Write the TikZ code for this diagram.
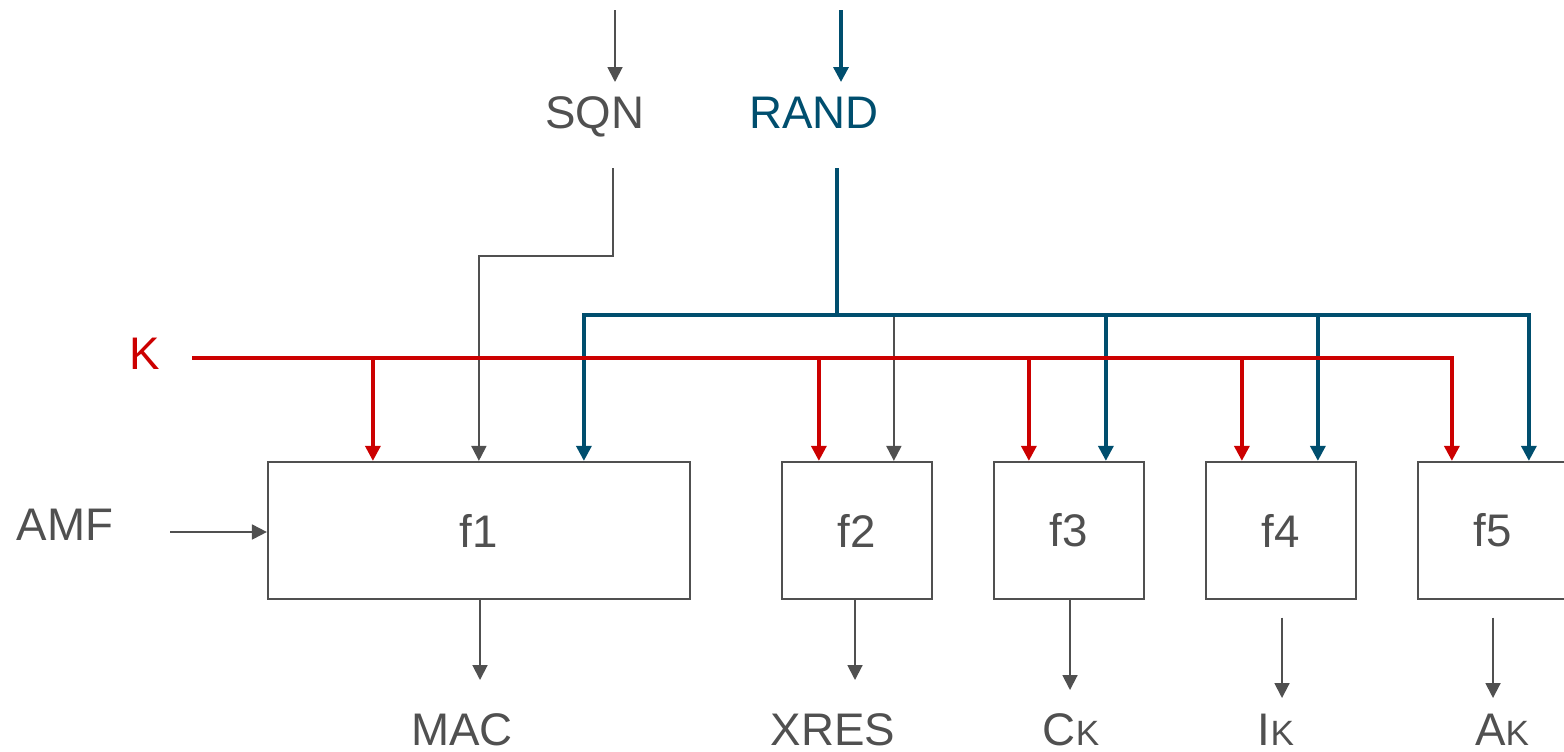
\documentclass[tikz,border=0pt]{standalone}
\usepackage{fontspec}
\setsansfont{Liberation Sans}
\usetikzlibrary{arrows.meta,positioning,calc}
\definecolor{txtgray}{RGB}{80,80,80}
\definecolor{kred}{RGB}{204,0,0}
\definecolor{randblue}{RGB}{0,78,110}
\newcommand{\subk}{{\fontsize{20}{24}\selectfont K}}

\begin{document}
\begin{tikzpicture}[
  x=0.02cm, y=-0.02cm,
  font=\sffamily\fontsize{26}{30}\selectfont,
  >={Triangle[width=8.5pt,length=8.5pt]},
  txt/.style={text=txtgray, inner sep=0pt, anchor=base},
  fbox/.style={draw=txtgray, line width=1.3pt, minimum height=2.74cm, minimum width=3cm, inner sep=0pt, text=txtgray},
  sig/.style={draw=txtgray, line width=1.1pt},
  kline/.style={draw=kred, line width=1.9pt},
  rline/.style={draw=randblue, line width=1.9pt}
]
\useasboundingbox (0,0) rectangle (1564,751);

% inputs
\node[txt] (sqn) at (595,128) {SQN};
\node[txt, text=randblue] (rand) at (814,128) {RAND};
\node[txt, text=kred] (k) at (145,369) {K};
\node[txt] (amf) at (65,540) {AMF};

% functions
\node[fbox, minimum width=8.44cm] (f1) at (479,530.5) {f1};
\node[fbox] (f2) at (857,530.5) {f2};
\node[fbox] (f3) at (1069,530.5) {f3};
\node[fbox] (f4) at (1281,530.5) {f4};
\node[fbox] (f5) at (1493,530.5) {f5};

% outputs
\node[txt] (mac) at (462,745) {MAC};
\node[txt] (xres) at (833,745) {XRES};
\node[txt] (ck) at (1071,745) {C\subk};
\node[txt] (ik) at (1276,745) {I\subk};
\node[txt] (ak) at (1502,745) {A\subk};

% tap points on the box tops
\foreach \b/\dk/\dr in {f1/106/317, f2/38/113, f3/36/113, f4/37/113, f5/35/112} {
  \coordinate (\b k) at ($(\b.north west)+(\dk,0)$);
  \coordinate (\b r) at ($(\b.north west)+(\dr,0)$);
}
\coordinate (f1s) at ($(f1.north west)+(212,0)$);

% top feeds
\coordinate (sqnsrc) at (615,10);
\coordinate (sqntip) at (615,82);
\coordinate (randsrc) at (841,10);
\coordinate (randtip) at (841,82);
\draw[sig,->] (sqnsrc) -- (sqntip);
\draw[rline,->] (randsrc) -- (randtip);

% SQN to f1 and f2
\coordinate (sqnout) at (613,168);
\draw[sig,->] (sqnout) -- ++(0,88) -| (f1s);
\coordinate (rbus) at (837,315);
\draw[sig,->] (f2r |- rbus) -- (f2r);

% RAND bus
\coordinate (randout) at (837,168);
\draw[rline] (randout) -- (rbus);
\draw[rline,->] (rbus) -| (f5r);
\draw[rline,->] (rbus) -| (f1r);
\foreach \b in {f3,f4} {
  \draw[rline,->] (\b r |- rbus) -- (\b r);
}

% K bus
\coordinate (kstart) at (192,358);
\draw[kline,->] (kstart) -| (f5k);
\foreach \b in {f1,f2,f3,f4} {
  \draw[kline,->] (\b k |- kstart) -- (\b k);
}

% AMF
\coordinate (amfsrc) at (170,532);
\draw[sig,->] (amfsrc) -- (amfsrc -| f1.west);

% results
\coordinate (macin) at (480,680);
\coordinate (xresin) at (855,680);
\coordinate (ckin) at (1070,690);
\coordinate (ikin) at (1282,698);
\coordinate (akin) at (1493,698);
\draw[sig,->] (macin |- f1.south) -- (macin);
\draw[sig,->] (xresin |- f2.south) -- (xresin);
\draw[sig,->] (ckin |- f3.south) -- (ckin);
\draw[sig,->, shorten <=9\pgflinewidth] (ikin |- f4.south) -- (ikin);
\draw[sig,->, shorten <=9\pgflinewidth] (akin |- f5.south) -- (akin);

\end{tikzpicture}
\end{document}
